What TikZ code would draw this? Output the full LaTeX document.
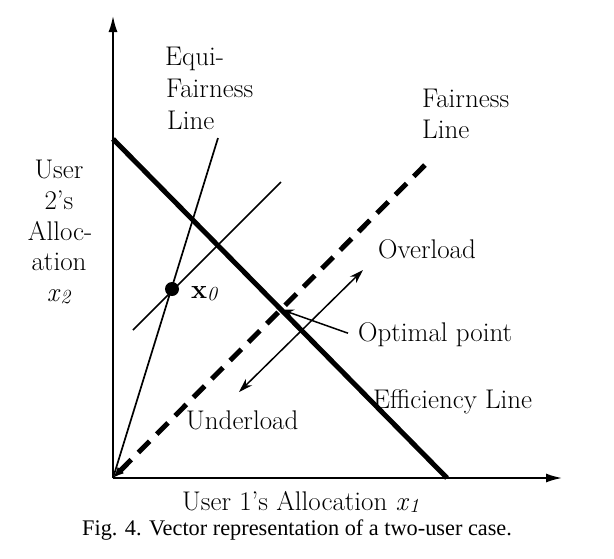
\documentclass[tikz,border=0pt]{standalone}
\usepackage{fontspec}
\newfontfamily\capfont{Liberation Serif}
\usetikzlibrary{arrows.meta}
\begin{document}
\begin{tikzpicture}[x=1pt,y=-1pt,
  lbl/.style={font=\fontsize{27}{31}\selectfont, inner sep=0pt, anchor=base west},
  clbl/.style={lbl, anchor=base},
  axisline/.style={line width=2.6pt, -{Latex[length=17pt,width=9pt]}},
  effline/.style={line width=5pt},
  fairline/.style={line width=5pt, dash pattern=on 16pt off 10pt},
  thinline/.style={line width=1.7pt},
  sub/.style={}
]
\useasboundingbox (0,0) rectangle (614,558);
% coordinates
\coordinate (O) at (113,478);
\coordinate (Ytop) at (113,15);
\coordinate (Xend) at (563,478);
\coordinate (E1) at (113,139);
\coordinate (E2) at (447,478);
\coordinate (F2) at (430,160);
\coordinate (Q) at (218,138);
\coordinate (P1) at (133,330);
\coordinate (P2) at (281,182);
\coordinate (A1) at (239,392);
\coordinate (A2) at (363,270);
\coordinate (opt) at (intersection of E1--E2 and O--F2);
% axes
\draw[axisline] (O) -- (Ytop);
\draw[axisline] (O) -- (Xend);
% efficiency line
\draw[effline] (E1) -- (E2);
% fairness line
\draw[fairline, {Latex[length=11pt,width=9pt]}-] (O) -- (F2);
% equi-fairness line
\draw[thinline] (O) -- (Q);
% line through x0
\draw[thinline] (P1) -- (P2);
% overload/underload arrow
\draw[line width=1.5pt, {Stealth[length=14pt,width=9pt]}-{Stealth[length=14pt,width=9pt]}] (A1) -- (A2);
% x0 point
\node[circle, fill, inner sep=0pt, minimum size=14pt] (dot) at (172,289) {};
\node[lbl] (x0lbl) at (191,298) {\textbf{x}\raisebox{-0.25ex}{\fontsize{20}{20}\selectfont\textit{0}}};
% labels
\node[lbl] (eq1) at (165,65) {Equi-};
\node[lbl] (eq2) at (166,97) {Fairness};
\node[lbl] (eq3) at (167,129) {Line};
\node[lbl] (fl1) at (422,107) {Fairness};
\node[lbl] (fl2) at (422,138) {Line};
\node[lbl] (over) at (378,258) {Overload};
\node[lbl] (optlbl) at (358,341) {Optimal point};
\node[lbl] (eff) at (373,408) {Efficiency Line};
\node[lbl] (under) at (186,429) {Underload};
\node[lbl] (xlab) at (182,510) {User 1’s Allocation \textit{x}\raisebox{-0.25ex}{\fontsize{20}{20}\selectfont\textit{1}}};
\node[clbl] (y1) at (59,178) {User};
\node[clbl] (y2) at (59,209) {2’s};
\node[clbl] (y3) at (60,240) {Alloc-};
\node[clbl] (y4) at (59,270) {ation};
\node[clbl] (y5) at (59,301) {\textit{x}\raisebox{-0.25ex}{\fontsize{20}{20}\selectfont\textit{2}}};
% optimal point arrow
\draw[line width=1.5pt, -{Stealth[length=13pt,width=9pt]}] ([xshift=-10pt,yshift=1pt]optlbl.west) -- (opt);
% caption
\node[inner sep=0pt, anchor=base west, font=\capfont\fontsize{22.3}{26}\selectfont] (cap) at (82,535) {Fig. 4. Vector representation of a two-user case.};
\end{tikzpicture}
\end{document}
